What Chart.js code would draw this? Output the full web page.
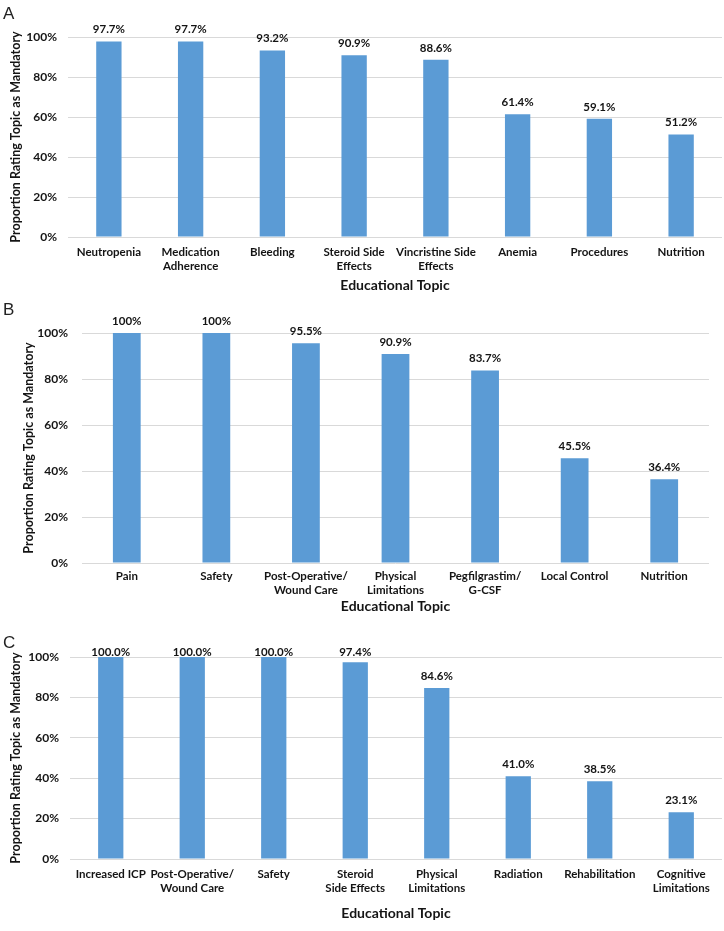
<!DOCTYPE html>
<html>
<head>
<meta charset="utf-8">
<script src="https://cdn.jsdelivr.net/npm/chart.js@4.4.1/dist/chart.umd.min.js"></script>
<style>
  html, body { margin: 0; padding: 0; background: #fff; }
  body { width: 724px; height: 931px; position: relative; overflow: hidden; }
  .panel { position: absolute; left: 0; width: 724px; }
  .letter { position: absolute; font-family: "Liberation Sans", Arial, sans-serif; font-size: 17px; color: #222; line-height: 1; }
</style>
</head>
<body>
<div class="panel" id="pA" style="top:0;height:296px"><canvas id="cA"></canvas></div>
<div class="panel" id="pB" style="top:296px;height:320px"><canvas id="cB"></canvas></div>
<div class="panel" id="pC" style="top:616px;height:315px"><canvas id="cC"></canvas></div>
<div class="letter" style="left:3px;top:5px">A</div>
<div class="letter" style="left:3px;top:301px">B</div>
<div class="letter" style="left:3px;top:634px">C</div>
<script>
// ---- Data ----
const catsA = ['Neutropenia', ['Medication', 'Adherence'], 'Bleeding', ['Steroid Side', 'Effects'], ['Vincristine Side', 'Effects'], 'Anemia', 'Procedures', 'Nutrition'];
const valsA = [97.7, 97.7, 93.2, 90.9, 88.6, 61.4, 59.1, 51.2];
const valLabelsA = ['97.7%', '97.7%', '93.2%', '90.9%', '88.6%', '61.4%', '59.1%', '51.2%'];

const catsB = ['Pain', 'Safety', ['Post-Operative/', 'Wound Care'], ['Physical', 'Limitations'], ['Pegfilgrastim/', 'G-CSF'], 'Local Control', 'Nutrition'];
const valsB = [100, 100, 95.5, 90.9, 83.7, 45.5, 36.4];
const valLabelsB = ['100%', '100%', '95.5%', '90.9%', '83.7%', '45.5%', '36.4%'];

const catsC = ['Increased ICP', ['Post-Operative/', 'Wound Care'], 'Safety', ['Steroid', 'Side Effects'], ['Physical', 'Limitations'], 'Radiation', 'Rehabilitation', ['Cognitive', 'Limitations']];
const valsC = [100.0, 100.0, 100.0, 97.4, 84.6, 41.0, 38.5, 23.1];
const valLabelsC = ['100.0%', '100.0%', '100.0%', '97.4%', '84.6%', '41.0%', '38.5%', '23.1%'];

const yTickValues = [0, 20, 40, 60, 80, 100];
const yTitle = 'Proportion Rating Topic as Mandatory';
const xTitle = 'Educational Topic';

// ---- Style ----
const FONT = 'Lato, "Open Sans", sans-serif';
const TEXT = '#141414';
const BAR = '#5B9BD5';
const GRID = '#D9D9D9';

const valueLabels = {
  id: 'valueLabels',
  afterDatasetsDraw(chart, args, opts) {
    const ctx = chart.ctx;
    const meta = chart.getDatasetMeta(0);
    ctx.save();
    ctx.font = 'bold 11.5px ' + FONT;
    ctx.fillStyle = TEXT;
    ctx.textAlign = 'center';
    ctx.textBaseline = 'middle';
    meta.data.forEach((bar, i) => {
      let y = bar.y - opts.offset;
      if (opts.minY !== undefined) y = Math.max(y, chart.chartArea.top + opts.minY);
      ctx.fillText(opts.labels[i], bar.x, y);
    });
    ctx.restore();
  }
};

function makeChart(id, cats, vals, labels, g) {
  new Chart(document.getElementById(id), {
    type: 'bar',
    data: {
      labels: cats,
      datasets: [{ data: vals, backgroundColor: BAR, borderWidth: 0, categoryPercentage: 1, barPercentage: 0.31 }]
    },
    plugins: [valueLabels],
    options: {
      responsive: true,
      maintainAspectRatio: false,
      animation: false,
      layout: { padding: { top: g.top, right: g.right, left: 0, bottom: 0 } },
      plugins: {
        legend: { display: false },
        tooltip: { enabled: false },
        valueLabels: { labels: labels, offset: 12, minY: g.minY }
      },
      scales: {
        x: {
          grid: { display: false, drawTicks: false },
          border: { display: false },
          ticks: {
            autoSkip: false, maxRotation: 0, minRotation: 0,
            padding: g.xTickPad, color: TEXT,
            font: { family: FONT, size: 11.5, weight: 'bold', lineHeight: 1.15 }
          },
          title: {
            display: true, text: xTitle, color: TEXT,
            font: { family: FONT, size: 14, weight: 'bold', lineHeight: 1.2 },
            padding: { top: 0, bottom: g.xTitlePad }
          },
          afterFit(s) { s.height = g.xHeight; }
        },
        y: {
          min: 0, max: 100,
          afterBuildTicks(s) { s.ticks = yTickValues.map(v => ({ value: v })); },
          grid: { color: GRID, lineWidth: 1, drawTicks: false },
          border: { display: false },
          ticks: {
            padding: g.yTickPad, color: TEXT,
            font: { family: FONT, size: 12, weight: 'bold' },
            callback: v => v + '%'
          },
          title: {
            display: true, text: yTitle, color: TEXT,
            font: { family: FONT, size: 12.5, weight: 'bold', lineHeight: 1.2 },
            padding: { top: g.yTitlePad, bottom: 0 }
          },
          afterFit(s) { s.width = g.left; }
        }
      }
    }
  });
}

makeChart('cA', catsA, valsA, valLabelsA, { top: 37, right: 2, left: 68, xHeight: 59, xTickPad: 9, xTitlePad: 2, yTickPad: 11, yTitlePad: 8 });
makeChart('cB', catsB, valsB, valLabelsB, { top: 37, right: 15, left: 82, xHeight: 53, xTickPad: 7, xTitlePad: 1, yTickPad: 14, yTitlePad: 21 });
makeChart('cC', catsC, valsC, valLabelsC, { top: 41, right: 2, left: 70, xHeight: 72, xTickPad: 9, xTitlePad: 9, yTickPad: 11, yTitlePad: 8, minY: -5 });
</script>
</body>
</html>
